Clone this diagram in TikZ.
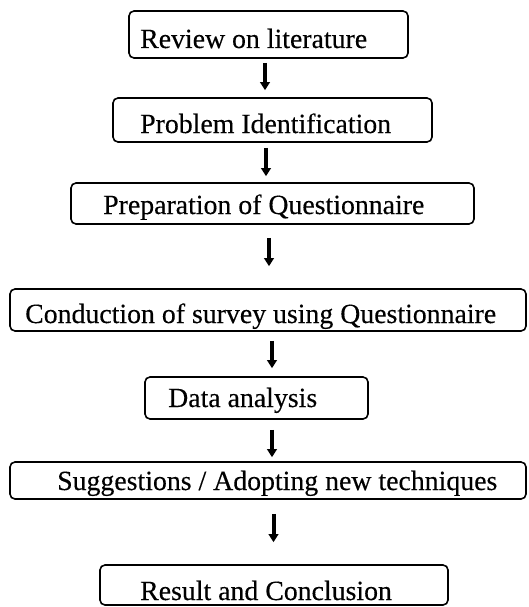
\documentclass[tikz,border=0pt]{standalone}
\usepackage{fontspec}
\setmainfont[FakeBold=0.3]{Liberation Serif}
\usetikzlibrary{arrows.meta}
\begin{document}
\begin{tikzpicture}[x=1pt,y=-1pt,
  stepbox/.style={draw,line width=1.6pt,rounded corners=5pt,inner sep=0pt},
  lbl/.style={anchor=base west,inner sep=0pt,font=\fontsize{27.8}{31}\selectfont},
  arr/.style={line width=4pt,-{Triangle[width=9.5pt,length=8pt]}}]
\useasboundingbox (0,0) rectangle (528,607);
% boxes
\node[stepbox,minimum width=279pt,minimum height=47pt] (b1) at (268.5,34.5) {};
\node[stepbox,minimum width=319pt,minimum height=44pt] (b2) at (272.5,120) {};
\node[stepbox,minimum width=403pt,minimum height=41pt] (b3) at (272.5,203.5) {};
\node[stepbox,minimum width=516pt,minimum height=42pt] (b4) at (268,310) {};
\node[stepbox,minimum width=223pt,minimum height=42pt] (b5) at (256.5,398) {};
\node[stepbox,minimum width=516pt,minimum height=37pt] (b6) at (268,480.5) {};
\node[stepbox,minimum width=348pt,minimum height=40pt] (b7) at (274,585) {};
% texts
\node[lbl] (t1) at (140,48) {Review on literature};
\node[lbl] (t2) at (140,133) {Problem Identification};
\node[lbl] (t3) at (103,214) {Preparation of Questionnaire};
\node[lbl] (t4) at (25,323) {Conduction of survey using Questionnaire};
\node[lbl] (t5) at (168,407) {Data analysis};
\node[lbl] (t6) at (57,490) {Suggestions / Adopting new techniques};
\node[lbl] (t7) at (140,600) {Result and Conclusion};
% arrow columns
\coordinate (c1) at (265,0);
\coordinate (c2) at (266,0);
\coordinate (c3) at (269,0);
\coordinate (c4) at (272,0);
\coordinate (c5) at (272,0);
\coordinate (c6) at (273.5,0);
% connectors
\draw[arr,shorten <=4pt,shorten >=7pt] (b1.south -| c1) -- (b2.north -| c1);
\draw[arr,shorten <=5pt,shorten >=6pt] (b2.south -| c2) -- (b3.north -| c2);
\draw[arr,shorten <=13pt,shorten >=22pt] (b3.south -| c3) -- (b4.north -| c3);
\draw[arr,shorten <=9pt,shorten >=8pt] (b4.south -| c4) -- (b5.north -| c4);
\draw[arr,shorten <=10pt,shorten >=4pt] (b5.south -| c5) -- (b6.north -| c5);
\draw[arr,shorten <=14pt,shorten >=22pt] (b6.south -| c6) -- (b7.north -| c6);
\end{tikzpicture}
\end{document}
